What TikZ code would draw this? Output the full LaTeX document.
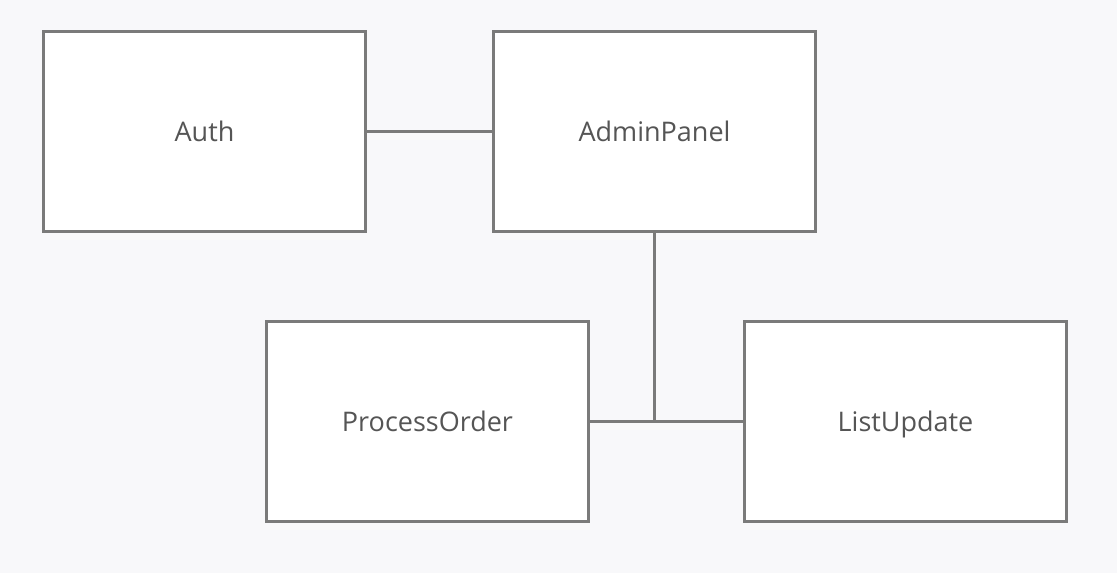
\documentclass[tikz,border=0pt]{standalone}
\usepackage{fontspec}
\setmainfont{Open Sans}
\usepackage{tkz-graph}
\definecolor{boxline}{HTML}{7A7A7A}
\definecolor{boxtext}{HTML}{555555}
\definecolor{canvas}{HTML}{F8F8FA}

\begin{document}
\begin{tikzpicture}[x=1pt,y=-1pt]
    \GraphInit[vstyle=Normal]
    \tikzset{VertexStyle/.style={rectangle, draw=boxline, line width=3pt, fill=white,
        minimum width=322pt, minimum height=200pt, inner sep=0pt,
        text height=20pt, text depth=0pt,
        text=boxtext, font=\fontsize{27}{32}\selectfont},
      EdgeStyle/.style={draw=boxline, line width=3pt}}
    \fill[canvas] (0,0) rectangle (1117,573);
    \Vertex[x=204.5,y=131.5]{Auth}
    \Vertex[x=654.5,y=131.5]{AdminPanel}
    \Vertex[x=427.5,y=421]{ProcessOrder}
    \Vertex[x=905.5,y=421]{ListUpdate}
    \coordinate (join) at (AdminPanel |- ProcessOrder);
    \Edge(Auth)(AdminPanel)
    \Edge(ProcessOrder)(ListUpdate)
    \draw[EdgeStyle] (AdminPanel) -- (join);
\end{tikzpicture}
\end{document}
